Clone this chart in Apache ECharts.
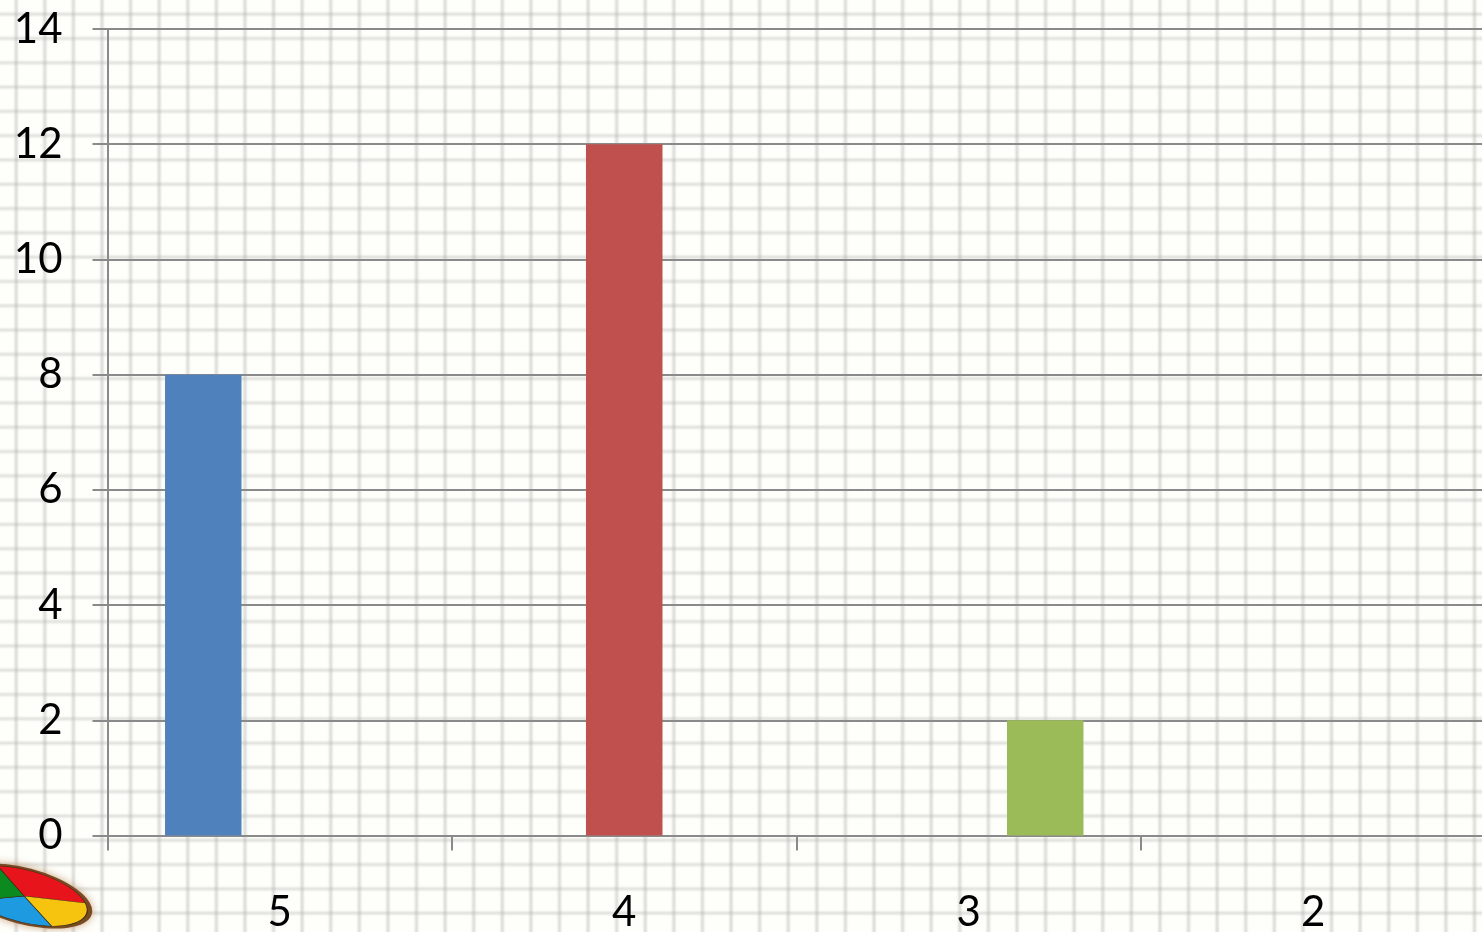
<!DOCTYPE html>
<html>
<head>
<meta charset="utf-8">
<style>
html,body{margin:0;padding:0;width:1482px;height:932px;overflow:hidden;}
body{
  background-color:#fefefb;
  background-image:
    linear-gradient(90deg, rgba(170,172,165,0) 0, rgba(170,172,165,.36) 2.5px, rgba(170,172,165,.36) 3.5px, rgba(170,172,165,0) 6px),
    linear-gradient(180deg, rgba(170,172,165,0) 0, rgba(170,172,165,.3) 2.5px, rgba(170,172,165,.3) 3.5px, rgba(170,172,165,0) 6px);
  background-size:28.6px 100%, 100% 24.3px;
  background-position:13.2px 0, 0 11.2px;
}
#c{width:1482px;height:932px;}
</style>
</head>
<body>
<div id="c"></div>
<script src="https://cdn.jsdelivr.net/npm/echarts@6/dist/echarts.min.js"></script>
<script>
const categories = ['5','4','3','2'];
const seriesA = [8,null,null,null];
const seriesB = [null,12,null,null];
const seriesC = [null,null,2,null];
const colors = ['#4F81BD','#C0504D','#9BBB59'];
const axisGrey = '#8a8a8a';

const chart = echarts.init(document.getElementById('c'), null, {renderer:'canvas'});
const sec = (s,e,fill) => ({type:'sector',shape:{cx:0,cy:0,r:100,r0:0,startAngle:s*Math.PI/180,endAngle:e*Math.PI/180},
  style:{fill:fill,stroke:'#3a2a1a',lineWidth:1.5}});
chart.setOption({
  backgroundColor:'transparent',
  animation:false,
  grid:{left:107.5,top:29,width:1378,height:806.5,containLabel:false,outerBoundsMode:'none'},
  xAxis:{type:'category',data:categories,
    axisLine:{show:true,lineStyle:{color:axisGrey,width:2}},
    axisTick:{show:true,alignWithLabel:false,length:15,lineStyle:{color:axisGrey,width:2}},
    axisLabel:{margin:56,fontFamily:'Lato',fontSize:42,color:'#000'},
    splitLine:{show:false}},
  yAxis:{type:'value',min:0,max:14,interval:2,
    axisLine:{show:true,lineStyle:{color:axisGrey,width:2}},
    axisTick:{show:true,length:15,lineStyle:{color:axisGrey,width:2}},
    axisLabel:{margin:45,fontFamily:'Lato',fontSize:42,color:'#000'},
    splitLine:{show:true,lineStyle:{color:axisGrey,width:2}}},
  series:[
    {type:'bar',data:seriesA,itemStyle:{color:colors[0]},barGap:'0%',barCategoryGap:'33.4%'},
    {type:'bar',data:seriesB,itemStyle:{color:colors[1]}},
    {type:'bar',data:seriesC,itemStyle:{color:colors[2]}}
  ],
  graphic:[{type:'group',x:24,y:896,rotation:-0.26,scaleX:0.65,scaleY:0.26,z:50,children:[
    {type:'circle',shape:{cx:0,cy:0,r:108},style:{fill:'#7a4a22',shadowBlur:8,shadowColor:'rgba(170,110,50,.6)'}},
    sec(-121,-20,'#E8141C'),
    sec(-20,58,'#F6C40F'),
    sec(58,137,'#1E9BE0'),
    sec(137,239,'#0B8A1F')
  ]}]
});
</script>
</body>
</html>
